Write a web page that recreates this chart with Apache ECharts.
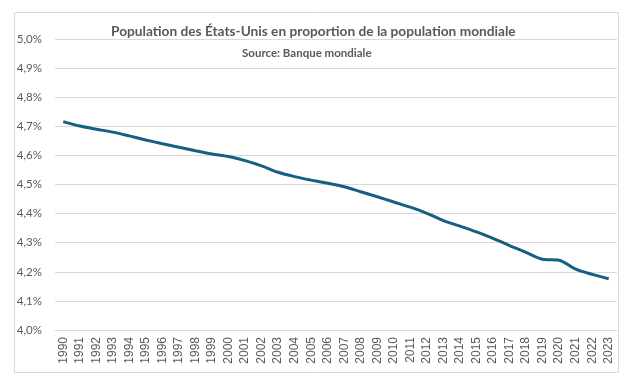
<!DOCTYPE html>
<html>
<head>
<meta charset="utf-8">
<script src="https://cdn.jsdelivr.net/npm/echarts@6/dist/echarts.min.js"></script>
<style>
html,body{margin:0;padding:0;background:#fff;}
#chart{width:634px;height:387px;}
</style>
</head>
<body>
<div id="chart"></div>
<script>
const years = ['1990','1991','1992','1993','1994','1995','1996','1997','1998','1999','2000','2001','2002','2003','2004','2005','2006','2007','2008','2009','2010','2011','2012','2013','2014','2015','2016','2017','2018','2019','2020','2021','2022','2023'];
const shareUS = [4.716,4.701,4.690,4.680,4.667,4.653,4.640,4.628,4.616,4.605,4.596,4.582,4.564,4.542,4.527,4.515,4.504,4.492,4.475,4.458,4.440,4.422,4.401,4.376,4.357,4.337,4.315,4.290,4.267,4.243,4.240,4.209,4.191,4.176];
const titleText = 'Population des États-Unis en proportion de la population mondiale';
const subtitleText = 'Source: Banque mondiale';

const chart = echarts.init(document.getElementById('chart'), null, {renderer:'canvas'});
chart.setOption({
  animation:false,
  backgroundColor:'#fff',
  title:[
    {text:titleText, left:111, top:25, padding:0, textStyle:{fontFamily:'Lato', fontWeight:'bold', fontSize:13.7, color:'#595959'}},
    {text:subtitleText, left:242, top:47, padding:0, textStyle:{fontFamily:'Lato', fontWeight:'bold', fontSize:11.5, color:'#595959'}}
  ],
  graphic:[{type:'rect', shape:{x:14.5,y:12.5,width:604,height:360}, style:{fill:'none', stroke:'#d9d9d9', lineWidth:1}, silent:true}],
  grid:{left:55, right:17, top:39, bottom:57, containLabel:false},
  xAxis:{
    type:'category', data:years, boundaryGap:true,
    axisLine:{show:true, lineStyle:{color:'#d9d9d9'}},
    axisTick:{show:false},
    axisLabel:{rotate:90, interval:0, fontFamily:'Liberation Sans', fontSize:12, color:'#595959', margin:7}
  },
  yAxis:{
    type:'value', min:4.0, max:5.0, interval:0.1,
    axisLine:{show:false}, axisTick:{show:false},
    splitLine:{lineStyle:{color:'#d9d9d9'}},
    axisLabel:{fontFamily:'Lato', fontSize:11.5, color:'#595959', margin:13,
      formatter:v=>v.toFixed(1).replace('.',',')+'%'}
  },
  series:[{
    type:'line', data:shareUS, smooth:0.3, symbol:'none',
    lineStyle:{color:'#156082', width:3}
  }]
});
</script>
</body>
</html>
